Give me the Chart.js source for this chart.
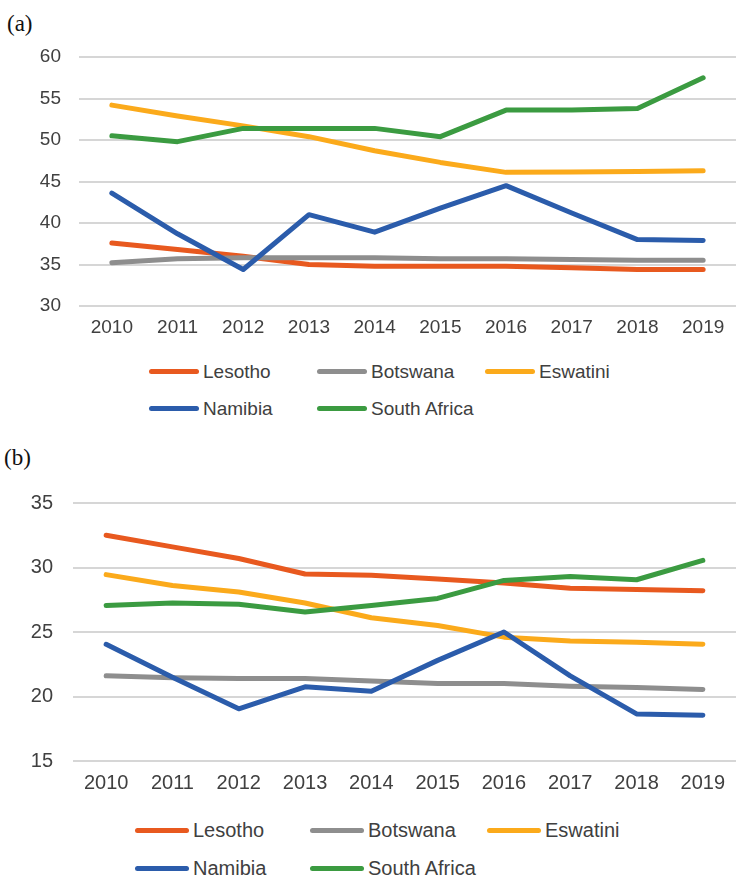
<!DOCTYPE html>
<html>
<head>
<meta charset="utf-8">
<script src="https://cdn.jsdelivr.net/npm/chart.js@4/dist/chart.umd.min.js"></script>
<style>
  html, body { margin: 0; padding: 0; background: #ffffff; }
  #page { position: relative; width: 738px; height: 877px; overflow: hidden; background: #ffffff; }
  canvas { position: absolute; left: 0; }
  .panel-label { position: absolute; font-family: "Liberation Serif", "Times New Roman", serif; font-size: 23px; color: #111; line-height: 1; }
  .legend-item { position: absolute; display: flex; align-items: center; font-family: "Liberation Sans", Arial, sans-serif; color: #404040; white-space: nowrap; }
  .legend-swatch { display: inline-block; height: 5px; border-radius: 3px; }
</style>
</head>
<body>
<div id="page">
  <div class="panel-label" style="left:7px; top:12px;">(a)</div>
  <canvas id="chartA" width="738" height="340" style="top:0px;"></canvas>
  <div class="panel-label" style="left:4px; top:446px;">(b)</div>
  <canvas id="chartB" width="738" height="360" style="top:440px;"></canvas>
</div>
<script>
// Years on the horizontal axis
const years = ['2010', '2011', '2012', '2013', '2014', '2015', '2016', '2017', '2018', '2019'];
const countries = ['Lesotho', 'Botswana', 'Eswatini', 'Namibia', 'South Africa'];

// Panel (a)
const lesothoA     = [37.6, 36.8, 36.0, 35.0, 34.8, 34.8, 34.8, 34.6, 34.4, 34.4];
const botswanaA    = [35.2, 35.7, 35.8, 35.8, 35.8, 35.7, 35.7, 35.6, 35.5, 35.5];
const eswatiniA    = [54.2, 52.9, 51.7, 50.4, 48.7, 47.3, 46.1, 46.15, 46.2, 46.3];
const namibiaA     = [43.6, 38.7, 34.4, 41.0, 38.9, 41.8, 44.5, 41.2, 38.0, 37.9];
const southAfricaA = [50.5, 49.8, 51.4, 51.4, 51.4, 50.4, 53.6, 53.6, 53.8, 57.5];
const yTicksA = [30, 35, 40, 45, 50, 55, 60];

// Panel (b)
const lesothoB     = [32.5, 31.6, 30.7, 29.5, 29.4, 29.1, 28.8, 28.4, 28.3, 28.2];
const botswanaB    = [21.6, 21.45, 21.4, 21.4, 21.2, 21.0, 21.0, 20.8, 20.7, 20.55];
const eswatiniB    = [29.45, 28.6, 28.1, 27.25, 26.1, 25.5, 24.6, 24.3, 24.2, 24.05];
const namibiaB     = [24.05, 21.5, 19.05, 20.75, 20.4, 22.8, 25.0, 21.6, 18.65, 18.55];
const southAfricaB = [27.05, 27.25, 27.15, 26.55, 27.05, 27.6, 29.0, 29.3, 29.05, 30.55];
const yTicksB = [15, 20, 25, 30, 35];

// Series colours
const seriesColors = ['#E8591F', '#8E8E8E', '#FBAA1B', '#2B5CAB', '#3B9B41'];

const TEXT_COLOR = '#404040';
const GRID_COLOR = '#D6D6D6';

function buildDatasets(valuesList) {
  return valuesList.map((values, i) => ({
    label: countries[i],
    data: values,
    borderColor: seriesColors[i],
    backgroundColor: seriesColors[i],
    borderWidth: 5,
    borderCapStyle: 'round',
    borderJoinStyle: 'round',
    pointRadius: 0,
    pointHoverRadius: 0,
    tension: 0,
    fill: false,
    // later series drawn on top
    order: valuesList.length - i
  }));
}

function makePanel(canvasId, valuesList, yTicks, cfg) {
  const yMin = yTicks[0];
  const yMax = yTicks[yTicks.length - 1];
  const font = { family: '"Liberation Sans", Arial, sans-serif', size: cfg.fontSize };
  return new Chart(document.getElementById(canvasId), {
    type: 'line',
    data: { labels: years, datasets: buildDatasets(valuesList) },
    options: {
      responsive: false,
      animation: false,
      devicePixelRatio: 1,
      layout: { padding: { top: cfg.padTop, right: 2, bottom: 0, left: 0 } },
      plugins: { legend: { display: false }, tooltip: { enabled: false } },
      scales: {
        x: {
          type: 'category',
          offset: true,
          grid: { display: false, drawTicks: false },
          border: { display: false },
          ticks: { color: TEXT_COLOR, font: font, padding: 10, maxRotation: 0, autoSkip: false },
          afterFit: (axis) => { axis.height = cfg.xHeight; }
        },
        y: {
          min: yMin,
          max: yMax,
          afterBuildTicks: (axis) => { axis.ticks = yTicks.map(v => ({ value: v })); },
          grid: { color: GRID_COLOR, lineWidth: 2, drawTicks: false },
          border: { display: false },
          ticks: { color: TEXT_COLOR, font: font, padding: cfg.yPad },
          afterFit: (axis) => { axis.width = cfg.yWidth; }
        }
      }
    }
  });
}

makePanel('chartA', [lesothoA, botswanaA, eswatiniA, namibiaA, southAfricaA], yTicksA,
  { fontSize: 19, padTop: 57, xHeight: 34, yWidth: 79, yPad: 18 });
makePanel('chartB', [lesothoB, botswanaB, eswatiniB, namibiaB, southAfricaB], yTicksB,
  { fontSize: 20, padTop: 63, xHeight: 39, yWidth: 73, yPad: 20 });

// Legends below each panel: three columns, wrapping to a second row
function buildLegend(layout) {
  const page = document.getElementById('page');
  countries.forEach((name, i) => {
    const col = i % 3;
    const row = Math.floor(i / 3);
    const item = document.createElement('div');
    item.className = 'legend-item';
    item.style.left = layout.cols[col] + 'px';
    item.style.top = (layout.rows[row] - layout.fontSize * 0.6) + 'px';
    item.style.height = (layout.fontSize * 1.2) + 'px';
    item.style.fontSize = layout.fontSize + 'px';
    const sw = document.createElement('span');
    sw.className = 'legend-swatch';
    sw.style.width = layout.swatch + 'px';
    sw.style.background = seriesColors[i];
    sw.style.marginRight = layout.gap + 'px';
    const txt = document.createElement('span');
    txt.textContent = name;
    item.appendChild(sw);
    item.appendChild(txt);
    page.appendChild(item);
  });
}

buildLegend({ cols: [149, 317, 485], rows: [372, 409], fontSize: 19, swatch: 50, gap: 4 });
buildLegend({ cols: [135, 310, 487], rows: [830, 868], fontSize: 20, swatch: 54, gap: 4 });
</script>
</body>
</html>
